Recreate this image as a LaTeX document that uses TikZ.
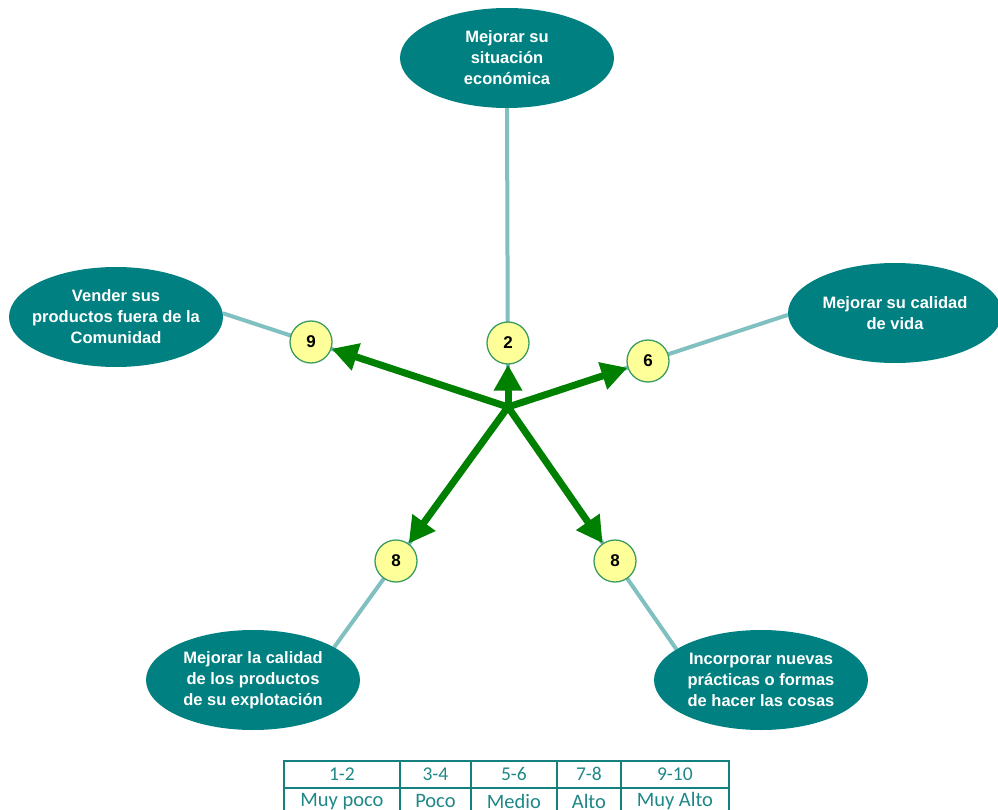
\documentclass[tikz,border=0pt]{standalone}
\usepackage{fontspec}
\setmainfont{Liberation Sans}
\newfontfamily\tablefont{Carlito}
\usetikzlibrary{shapes.geometric,arrows.meta,backgrounds}
\definecolor{tealfill}{RGB}{0,128,128}
\definecolor{linkcol}{RGB}{128,192,192}
\definecolor{circfill}{RGB}{255,255,153}
\definecolor{circborder}{RGB}{60,155,100}
\definecolor{arrowgreen}{RGB}{0,128,0}
\definecolor{tabcol}{RGB}{20,128,128}
\definecolor{tabtext}{RGB}{30,135,135}
\begin{document}
\begin{tikzpicture}[x=1pt,y=-1pt,
  goal/.style={ellipse, fill=tealfill, text=white, minimum width=214pt, minimum height=100pt, inner xsep=-15pt, inner ysep=0pt, align=center, font=\fontsize{16.5}{21}\selectfont\bfseries},
  score/.style={circle, draw=circborder, line width=1.3pt, fill=circfill, minimum size=42pt, inner sep=0pt, font=\fontsize{17}{17}\selectfont\bfseries},
  link/.style={draw=linkcol, line width=4pt},
  push/.style={draw=arrowgreen, line width=7pt, -{Triangle[length=26pt,width=27pt]}},
  cell/.style={draw=tabcol, line width=1.8pt, text=tabtext, inner sep=0pt, minimum height=27pt, anchor=north west},
  numcell/.style={cell, font=\tablefont\fontsize{19.5}{20}\selectfont},
  wordcell/.style={cell, font=\tablefont\fontsize{20.5}{21}\selectfont}
]
\useasboundingbox (0,0) rectangle (998,810);
\clip (0,0) rectangle (998,810);

% goals
\node[goal] (e2) at (507,58) {Mejorar su\\situación\\económica};
\node[goal] (e9) at (116,317) {Vender sus\\productos fuera de la\\Comunidad};
\node[goal] (e6) at (895,313) {Mejorar su calidad\\de vida};
\node[goal] (e8l) at (253,680) {Mejorar la calidad\\de los productos\\de su explotación};
\node[goal] (e8r) at (761,680) {Incorporar nuevas\\prácticas o formas\\de hacer las cosas};

% scores
\coordinate (C) at (508,407);
\node[score] (c2) at (508,343) {2};
\node[score] (c9) at (311,342) {9};
\node[score] (c6) at (648,361) {6};
\node[score] (c8l) at (396,561) {8};
\node[score] (c8r) at (615,561) {8};

% links and arrows behind the score circles
\begin{scope}[on background layer]
  \draw[link] (e2.south) -- (C);
  \draw[link] (e9.2) -- (C);
  \draw[link] (e6.181) -- (C);
  \draw[link] (e8l.22) -- (C);
  \draw[link] (e8r.160) -- (C);
  \draw[push] (C) -- (c2);
  \draw[push] (C) -- (c9);
  \draw[push] (C) -- (c6);
  \draw[push] (C) -- (c8l);
  \draw[push] (C) -- (c8r);
\end{scope}

% table
\node[numcell, minimum width=116pt] (t11) at (283,760) {1-2};
\node[numcell, minimum width=71pt] (t12) at (399,760) {3-4};
\node[numcell, minimum width=86pt] (t13) at (470,760) {5-6};
\node[numcell, minimum width=64pt] (t14) at (556,760) {7-8};
\node[numcell, minimum width=108pt] (t15) at (620,760) {9-10};
\node[wordcell, minimum width=116pt] (t21) at (283,787) {Muy poco};
\node[wordcell, minimum width=71pt] (t22) at (399,787) {Poco};
\node[wordcell, minimum width=86pt] (t23) at (470,787) {Medio};
\node[wordcell, minimum width=64pt] (t24) at (556,787) {Alto};
\node[wordcell, minimum width=108pt] (t25) at (620,787) {Muy Alto};
\end{tikzpicture}
\end{document}
